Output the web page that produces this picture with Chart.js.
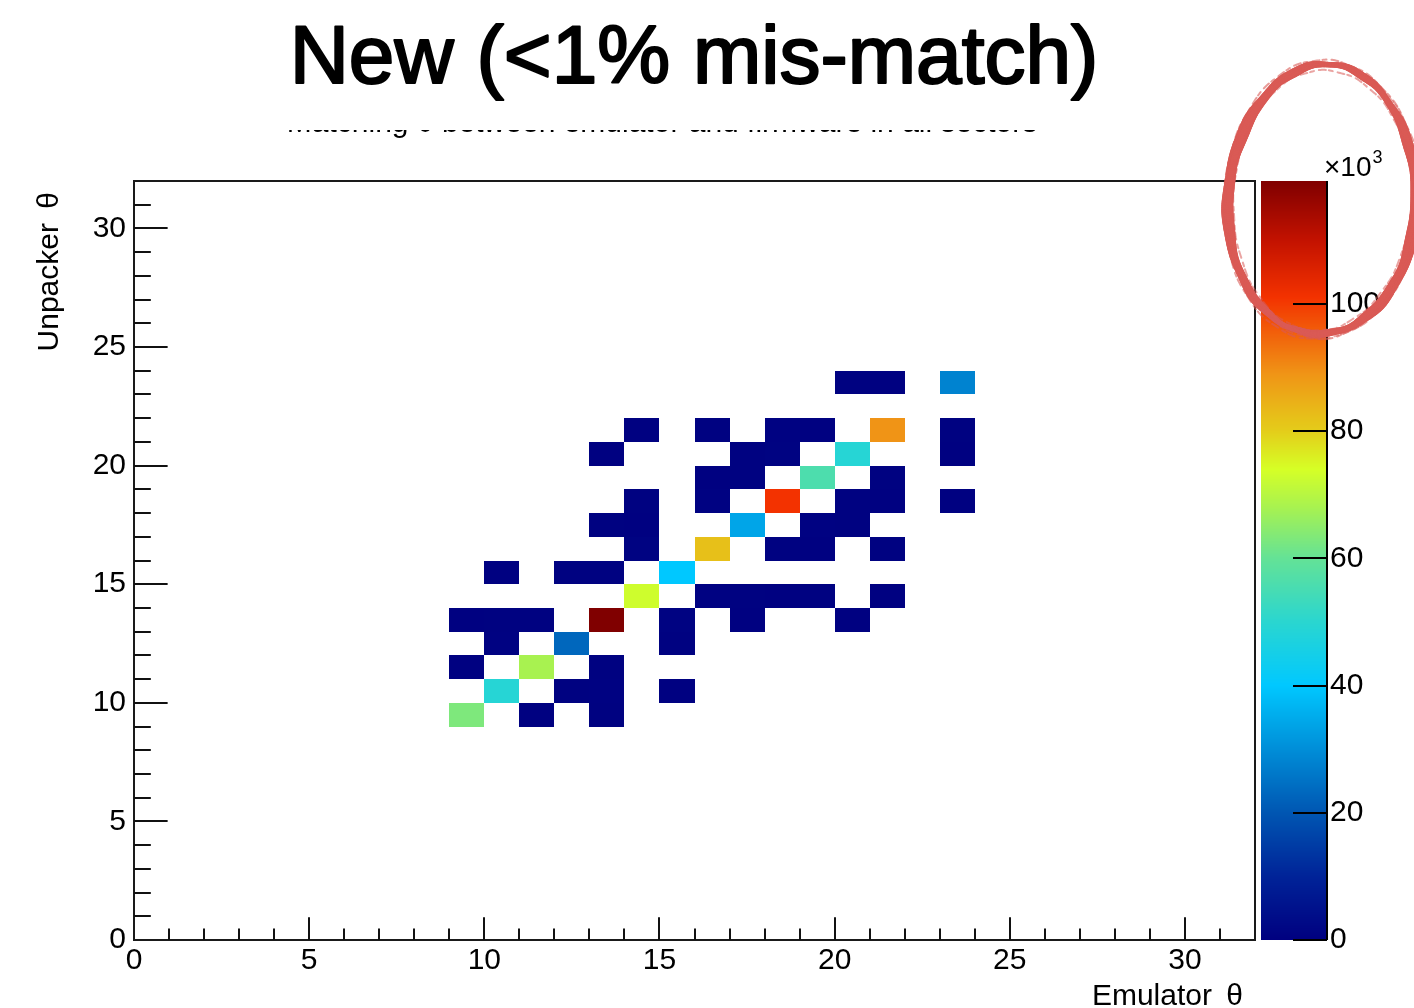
<!DOCTYPE html>
<html>
<head>
<meta charset="utf-8">
<script src="https://cdn.jsdelivr.net/npm/chart.js@4/dist/chart.umd.min.js"></script>
<style>
  html, body { margin: 0; padding: 0; background: #ffffff; }
  #wrap { width: 1414px; height: 1008px; }
</style>
</head>
<body>
<div id="wrap"><canvas id="c" width="1414" height="1008"></canvas></div>
<script>
// 2D histogram: unpacker theta vs emulator theta, 1-unit bins.
// Lower bin edges and bin contents (in units of 10^3 entries).
const binX = [20, 21, 23,
              14, 16, 18, 19, 21, 23,
              13, 17, 18, 20, 23,
              16, 17, 19, 21,
              14, 16, 18, 20, 21, 23,
              13, 14, 17, 19, 20,
              14, 16, 18, 19, 21,
              10, 12, 13, 15,
              14, 16, 17, 18, 19, 21,
              9, 10, 11, 13, 15, 17, 20,
              10, 12, 15,
              9, 11, 13,
              10, 12, 13, 15,
              9, 11, 13];
const binY = [23, 23, 23,
              21, 21, 21, 21, 21, 21,
              20, 20, 20, 20, 20,
              19, 19, 19, 19,
              18, 18, 18, 18, 18, 18,
              17, 17, 17, 17, 17,
              16, 16, 16, 16, 16,
              15, 15, 15, 15,
              14, 14, 14, 14, 14, 14,
              13, 13, 13, 13, 13, 13, 13,
              12, 12, 12,
              11, 11, 11,
              10, 10, 10, 10,
              9, 9, 9];
const binZ = [0.6, 0.4, 28,
              0.3, 0.5, 0.7, 0.4, 89, 0.6,
              0.3, 0.5, 0.8, 49, 0.4,
              0.4, 0.6, 56, 0.5,
              0.5, 0.7, 101, 0.6, 0.4, 0.3,
              0.6, 0.4, 34, 0.7, 0.5,
              0.8, 82, 0.5, 0.4, 0.6,
              0.3, 0.5, 0.6, 40,
              73, 0.7, 0.5, 0.4, 0.6, 0.3,
              0.4, 0.6, 0.5, 119.3, 0.8, 0.4, 0.3,
              0.7, 23, 0.5,
              0.4, 68, 0.6,
              49, 0.5, 0.7, 0.3,
              63, 0.4, 0.6];

const xTicks = [0, 5, 10, 15, 20, 25, 30];
const yTicks = [0, 5, 10, 15, 20, 25, 30];
const zTicks = [0, 20, 40, 60, 80, 100];
const axisMax = 32;
const zMax = 119.3;

const titleText = 'New (<1% mis-match)';
const histTitle = 'Matching θ between emulator and firmware in all sectors';
const xTitle = 'Emulator \u2009θ';
const yTitle = 'Unpacker \u2009θ';

// Rainbow colour palette (value in 10^3 -> rgb)
const palette = [
  [0, [0, 0, 128]], [10, [0, 35, 152]], [20, [0, 86, 178]], [30, [0, 142, 216]],
  [40, [0, 200, 255]], [50, [42, 214, 208]], [60, [100, 226, 150]], [68, [168, 242, 80]],
  [74, [214, 255, 38]], [80, [228, 205, 26]], [89, [240, 148, 22]], [101, [243, 50, 0]],
  [110, [195, 18, 0]], [119.3, [128, 0, 0]]
];
function colorFor(v) {
  if (v <= palette[0][0]) return 'rgb(' + palette[0][1].join(',') + ')';
  for (let i = 1; i < palette.length; i++) {
    const [v1, c1] = palette[i];
    const [v0, c0] = palette[i - 1];
    if (v <= v1) {
      const f = (v - v0) / (v1 - v0);
      const c = c0.map((a, k) => Math.round(a + (c1[k] - a) * f));
      return 'rgb(' + c.join(',') + ')';
    }
  }
  return 'rgb(' + palette[palette.length - 1][1].join(',') + ')';
}

const FONT = "'Liberation Sans', Arial, Helvetica, sans-serif";

const histPlugin = {
  id: 'histPlugin',
  beforeDatasetsDraw(chart) {
    const ctx = chart.ctx, xs = chart.scales.x, ys = chart.scales.y;
    const pts = chart.data.datasets[0].data;
    ctx.save();
    pts.forEach(p => {
      const x0 = Math.round(xs.getPixelForValue(p.bx));
      const x1 = Math.round(xs.getPixelForValue(p.bx + 1));
      const y0 = Math.round(ys.getPixelForValue(p.by + 1));
      const y1 = Math.round(ys.getPixelForValue(p.by));
      ctx.fillStyle = colorFor(p.z);
      ctx.fillRect(x0, y0, x1 - x0, y1 - y0);
    });
    ctx.restore();
  },
  afterDraw(chart) {
    const ctx = chart.ctx, a = chart.chartArea;
    const xs = chart.scales.x, ys = chart.scales.y, zs = chart.scales.z;
    const W = ctx.canvas.width;
    ctx.save();
    // frame
    ctx.strokeStyle = '#1a1a1a';
    ctx.lineWidth = 2;
    ctx.strokeRect(a.left, a.top, a.right - a.left, a.bottom - a.top);
    // axis ticks (inside the frame)
    ctx.strokeStyle = '#111';
    ctx.lineWidth = 2;
    ctx.beginPath();
    const xLen = (a.bottom - a.top) * 0.03;
    const yLen = (a.right - a.left) * 0.03;
    for (let v = 1; v < axisMax; v++) {
      const major = v % 5 === 0;
      const px = Math.round(xs.getPixelForValue(v));
      ctx.moveTo(px, a.bottom);
      ctx.lineTo(px, a.bottom - (major ? xLen : xLen / 2));
      const py = Math.round(ys.getPixelForValue(v));
      ctx.moveTo(a.left, py);
      ctx.lineTo(a.left + (major ? yLen : yLen / 2), py);
    }
    ctx.stroke();

    // colour bar
    const cbL = a.right + 6, cbR = a.right + 72;
    for (let py = Math.floor(a.top); py < Math.ceil(a.bottom); py++) {
      ctx.fillStyle = colorFor(zs.getValueForPixel(py + 0.5));
      ctx.fillRect(cbL, py, cbR - cbL, 1);
    }
    ctx.strokeStyle = '#000';
    ctx.lineWidth = 2;
    ctx.beginPath();
    ctx.moveTo(cbR, a.top);
    ctx.lineTo(cbR, a.bottom);
    zTicks.forEach(v => {
      const py = Math.round(zs.getPixelForValue(v));
      ctx.moveTo(cbR - 34, py);
      ctx.lineTo(cbR, py);
    });
    ctx.stroke();

    // exponent of the colour scale
    ctx.fillStyle = '#000';
    ctx.textBaseline = 'alphabetic';
    ctx.textAlign = 'left';
    ctx.font = '28px ' + FONT;
    ctx.fillText('×10', cbR - 3, a.top - 5);
    const w = ctx.measureText('×10').width;
    ctx.font = '18px ' + FONT;
    ctx.fillText('3', cbR - 3 + w + 1, a.top - 18);

    // axis titles
    ctx.font = '30px ' + FONT;
    ctx.textAlign = 'right';
    ctx.fillText(xTitle, a.right - 12, 1005);
    ctx.save();
    ctx.translate(58, a.top + 11);
    ctx.rotate(-Math.PI / 2);
    ctx.textAlign = 'right';
    ctx.fillText(yTitle, 0, 0);
    ctx.restore();

    // histogram title, mostly hidden behind the heading box
    ctx.font = '30px ' + FONT;
    ctx.textAlign = 'center';
    ctx.fillText(histTitle, 662, 132);
    ctx.fillStyle = '#fff';
    ctx.fillRect(0, 0, W, 130);

    // heading
    ctx.fillStyle = '#000';
    ctx.strokeStyle = '#000';
    ctx.lineWidth = 2.2;
    ctx.lineJoin = 'round';
    ctx.font = '82px ' + FONT;
    ctx.textAlign = 'center';
    ctx.fillText(titleText, 694, 83);
    ctx.strokeText(titleText, 694, 83);

    // hand-drawn ring
    ctx.save();
    ctx.translate(1322, 200);
    ctx.rotate(0.05);
    ctx.lineCap = 'round';
    const rx = 94, ry = 135, N = 420;
    const ringPt = (t, off, ph) => {
      const wob = 1 + 0.008 * Math.sin(3 * t + ph) + 0.004 * Math.sin(17 * t + 2 * ph);
      return [(rx + off) * wob * Math.cos(t), (ry + off) * wob * Math.sin(t)];
    };
    // main body with varying width
    ctx.strokeStyle = 'rgba(217,90,85,0.93)';
    for (let i = 0; i < N; i++) {
      const t0 = (i / N) * 2 * Math.PI, t1 = ((i + 1) / N) * 2 * Math.PI;
      ctx.lineWidth = 9 + 2.5 * Math.sin(2 * t0 + 1.2) + 1.2 * Math.sin(9 * t0);
      const p0 = ringPt(t0, 0, 0), p1 = ringPt(t1, 0, 0);
      ctx.beginPath();
      ctx.moveTo(p0[0], p0[1]);
      ctx.lineTo(p1[0], p1[1]);
      ctx.stroke();
    }
    // rough edges
    [[4.8, 1.3, 0.6], [-4.8, 2.1, 0.55], [2.5, 3.7, 0.5]].forEach(([off, ph, al]) => {
      ctx.strokeStyle = 'rgba(217,90,85,' + al + ')';
      ctx.lineWidth = 2;
      ctx.setLineDash([7, 3, 4, 5]);
      ctx.beginPath();
      for (let i = 0; i <= N; i++) {
        const p = ringPt((i / N) * 2 * Math.PI, off, ph);
        if (i === 0) ctx.moveTo(p[0], p[1]); else ctx.lineTo(p[0], p[1]);
      }
      ctx.stroke();
    });
    ctx.restore();

    ctx.restore();
  }
};

const points = binX.map((x, i) => ({ x: x + 0.5, y: binY[i] + 0.5, bx: x, by: binY[i], z: binZ[i] }));

const tickFont = { family: FONT, size: 30 };

new Chart(document.getElementById('c'), {
  type: 'scatter',
  data: {
    datasets: [{
      data: points,
      pointRadius: 0,
      pointHoverRadius: 0,
      showLine: false
    }]
  },
  options: {
    responsive: false,
    animation: false,
    devicePixelRatio: 1,
    layout: { padding: { top: 181, left: 0, right: 0, bottom: 0 } },
    events: [],
    plugins: {
      legend: { display: false },
      tooltip: { enabled: false },
      title: { display: false }
    },
    scales: {
      x: {
        type: 'linear', position: 'bottom', min: 0, max: axisMax,
        grid: { display: false, drawTicks: false },
        border: { display: false },
        afterBuildTicks: s => { s.ticks = xTicks.map(v => ({ value: v })); },
        afterFit: s => { s.height = 68; },
        ticks: { color: '#000', font: tickFont, padding: 3, maxRotation: 0, autoSkip: false }
      },
      y: {
        type: 'linear', position: 'left', min: 0, max: axisMax,
        grid: { display: false, drawTicks: false },
        border: { display: false },
        afterBuildTicks: s => { s.ticks = yTicks.map(v => ({ value: v })); },
        afterFit: s => { s.width = 134; },
        ticks: { color: '#000', font: tickFont, padding: 8, autoSkip: false }
      },
      z: {
        type: 'linear', position: 'right', min: 0, max: zMax,
        grid: { display: false, drawTicks: true, tickLength: 72 },
        border: { display: false },
        afterBuildTicks: s => { s.ticks = zTicks.map(v => ({ value: v })); },
        afterFit: s => { s.width = 159; },
        ticks: { color: '#000', font: tickFont, padding: 3, autoSkip: false }
      }
    }
  },
  plugins: [histPlugin]
});
</script>
</body>
</html>
